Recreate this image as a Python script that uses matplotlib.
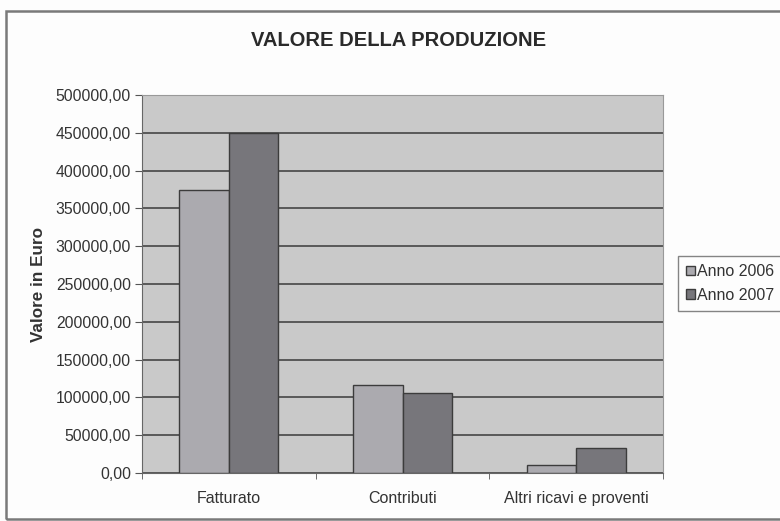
import matplotlib
matplotlib.use("Agg")
import matplotlib.pyplot as plt
import numpy as np
from matplotlib.patches import Rectangle
from matplotlib.ticker import FuncFormatter, MultipleLocator

categories = ["Fatturato", "Contributi", "Altri ricavi e proventi"]
series_names = ["Anno 2006", "Anno 2007"]
anno_2006 = [375000, 116000, 10500]
anno_2007 = [450000, 105500, 32500]
colors = ["#abaaaf", "#77767b"]

plt.rcParams['font.family'] = ['Liberation Sans', 'DejaVu Sans']

fig = plt.figure(figsize=(7.8, 5.21), dpi=100, facecolor="#fdfdfd")
ax = fig.add_axes([142/780, 1-473/521, (663-142)/780, (473-95)/521])
ax.set_facecolor("#c9c9c9")

x = np.arange(len(categories))
w = 1/3.5
for i, (vals, name) in enumerate(zip([anno_2006, anno_2007], series_names)):
    ax.bar(x + (i - 0.5) * w, vals, width=w,
           color=colors[i], edgecolor="#3c3c3c", linewidth=1.0, label=name, zorder=3)

ax.set_xlim(-0.5, len(categories) - 0.5)
ax.set_ylim(0, 500000)
ax.yaxis.set_major_locator(MultipleLocator(50000))
ax.yaxis.set_major_formatter(FuncFormatter(lambda v, p: f"{v:.2f}".replace(".", ",")))
ax.grid(axis="y", color="#3a3a3a", linewidth=1.1, zorder=1)
ax.set_axisbelow(True)

ax.set_xticks(x)
ax.set_xticklabels(categories)
ax.set_xticks(np.arange(len(categories) + 1) - 0.5, minor=True)
ax.tick_params(axis="x", which="major", length=0, pad=13, labelsize=11.5, colors="#333333")
ax.tick_params(axis="x", which="minor", length=4, color="#555555", direction="out")
ax.tick_params(axis="y", length=5, color="#555555", labelsize=11.3, labelcolor="#333333", pad=3)

for s in ["top", "right"]:
    ax.spines[s].set_color("#999999")
for s in ["left", "bottom"]:
    ax.spines[s].set_color("#666666")

ax.set_ylabel("Valore in Euro", fontsize=12.3, fontweight="bold", color="#333333", labelpad=7)
fig.text(399/780, 1-41/521, "VALORE DELLA PRODUZIONE", ha="center", va="center",
         fontsize=14.5, fontweight="bold", color="#2a2a2a")

leg = ax.legend(loc="upper left", bbox_to_anchor=(678/780, 1-256/521), bbox_transform=fig.transFigure,
                frameon=True, fancybox=False, fontsize=11.5, handlelength=0.55, handleheight=0.55,
                handletextpad=0.15, borderpad=0.5, labelspacing=0.55, borderaxespad=0)
leg.get_frame().set_edgecolor("#666666")
leg.get_frame().set_linewidth(1.0)
leg.get_frame().set_facecolor("#fdfdfd")
for t in leg.get_texts():
    t.set_color("#333333")

fig.patches.append(Rectangle((6/780, 1-519/521), 1.0, (519-11)/521, transform=fig.transFigure,
                             fill=False, edgecolor="#7a7a7a", linewidth=1.8))

fig.savefig("out.png", dpi=100, facecolor=fig.get_facecolor())
